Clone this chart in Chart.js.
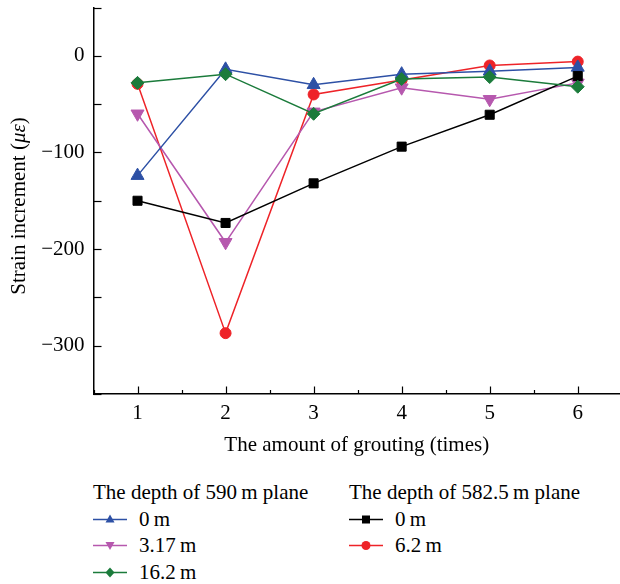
<!DOCTYPE html>
<html>
<head>
<meta charset="utf-8">
<script src="https://cdn.jsdelivr.net/npm/chart.js@4.4.1/dist/chart.umd.min.js"></script>
<style>
  html, body { margin: 0; padding: 0; background: #fff; }
  #wrap { position: relative; width: 620px; height: 584px; font-family: "Liberation Serif", "DejaVu Serif", serif; color: #000; }
  #chart { position: absolute; left: 0; top: 0; }
  .legend-col { position: absolute; top: 479px; font-size: 21px; line-height: 26.7px; }
  .legend-col .head { white-space: nowrap; }
  .legend-col .item { display: flex; align-items: center; white-space: nowrap; }
  .legend-col svg { margin-right: 12px; }
</style>
</head>
<body>
<div id="wrap">
  <canvas id="chart" width="620" height="460"></canvas>
  <div class="legend-col" id="legLeft" style="left:93px"></div>
  <div class="legend-col" id="legRight" style="left:349px"></div>
</div>
<script>
// grouting times
const grouting = [1, 2, 3, 4, 5, 6];

// 590 m plane
const d590_0m = [-124, -14, -30, -19, -16, -12];
const d590_317m = [-60, -193, -58, -33, -45, -28];
const d590_162m = [-28, -19, -60, -24, -22, -32];
// 582.5 m plane
const d5825_0m = [-150, -173, -132, -94, -61, -21];
const d5825_62m = [-29, -287, -40, -25, -10, -6];

const yLabels = [0, -100, -200, -300];

const FONT = '"Liberation Serif", "DejaVu Serif", serif';
const FS = 21;

function isWhole(v) {
    return Math.abs(v - Math.round(v)) < 1e-6;
}

function pts(vals) {
    return grouting.map((g, i) => ({ x: g, y: vals[i] }));
}

function ds(label, vals, color, style, radius, rot, order) {
    return {
        label: label,
        data: pts(vals),
        borderColor: color,
        backgroundColor: color,
        pointBackgroundColor: color,
        pointBorderColor: color,
        pointStyle: style,
        pointRadius: radius,
        pointHoverRadius: radius,
        pointRotation: rot,
        pointBorderWidth: 1,
        borderWidth: 1.5,
        tension: 0,
        fill: false,
        order: order
    };
}

const datasets = [
    ds('0 m', d590_0m, '#2d50a5', 'triangle', 7.5, 0, 2),
    ds('3.17 m', d590_317m, '#b658ae', 'triangle', 7.5, 180, 3),
    ds('16.2 m', d590_162m, '#1b7b3b', 'rectRot', 6.5, 0, 0),
    ds('0 m', d5825_0m, '#000000', 'rect', 6.4, 0, 1),
    ds('6.2 m', d5825_62m, '#ee2328', 'circle', 5.5, 0, 4)
];

// ticks drawn inward, like the original plot
const inwardTicks = {
    id: 'inwardTicks',
    afterDraw(chart) {
        const ctx = chart.ctx;
        const xs = chart.scales.x, ys = chart.scales.y;
        const area = chart.chartArea;
        ctx.save();
        ctx.strokeStyle = '#000';
        ctx.lineWidth = 1.2;
        xs.ticks.forEach(t => {
            const px = Math.round(xs.getPixelForValue(t.value)) + 0.5;
            const len = isWhole(t.value) ? 7.5 : 4;
            ctx.beginPath();
            ctx.moveTo(px, area.bottom);
            ctx.lineTo(px, area.bottom - len);
            ctx.stroke();
        });
        ys.ticks.forEach(t => {
            const py = Math.round(ys.getPixelForValue(t.value)) + 0.5;
            ctx.beginPath();
            ctx.moveTo(area.left, py);
            ctx.lineTo(area.left + 8, py);
            ctx.stroke();
        });
        ctx.restore();
    }
};

// axis titles (y title has italic mu-epsilon)
const axisTitles = {
    id: 'axisTitles',
    afterDraw(chart) {
        const ctx = chart.ctx;
        const area = chart.chartArea;
        const normal = FS + 'px ' + FONT;
        const parts = [
            { t: 'Strain increment (', f: normal },
            { t: 'με', f: 'italic ' + normal },
            { t: ')', f: normal }
        ];
        ctx.save();
        ctx.fillStyle = '#000';
        let total = 0;
        parts.forEach(p => { ctx.font = p.f; p.w = ctx.measureText(p.t).width; total += p.w; });
        ctx.save();
        ctx.translate(25, 206);
        ctx.rotate(-Math.PI / 2);
        ctx.textBaseline = 'alphabetic';
        let x = -total / 2;
        parts.forEach(p => { ctx.font = p.f; ctx.fillText(p.t, x, 0); x += p.w; });
        ctx.restore();

        ctx.font = normal;
        ctx.textAlign = 'center';
        ctx.textBaseline = 'middle';
        ctx.fillText('The amount of grouting (times)', (area.left + area.right) / 2, 445);
        ctx.restore();
    }
};

new Chart(document.getElementById('chart').getContext('2d'), {
    type: 'line',
    data: { datasets: datasets },
    options: {
        responsive: false,
        animation: false,
        layout: { autoPadding: false, padding: { top: 7.5, left: 0, right: 0, bottom: 0 } },
        plugins: {
            legend: { display: false },
            tooltip: { enabled: false }
        },
        scales: {
            x: {
                type: 'linear',
                min: 0.5,
                max: 6.48,
                afterFit: s => { s.height = 66; s.paddingLeft = 0; s.paddingRight = 0; },
                // major ticks at each grouting, minor halfway between
                afterBuildTicks: s => {
                    s.ticks = grouting.flatMap(g => [{ value: g - 0.5 }, { value: g }]);
                },
                grid: { display: false, drawTicks: false },
                border: { display: true, color: '#000', width: 1.5 },
                ticks: {
                    padding: 7,
                    color: '#000',
                    font: { family: FONT, size: FS },
                    maxRotation: 0,
                    autoSkip: false,
                    callback: v => isWhole(v) ? String(Math.round(v)) : ''
                }
            },
            y: {
                type: 'linear',
                min: -350,
                max: 50,
                afterFit: s => { s.width = 93.5; s.paddingTop = 0; s.paddingBottom = 0; },
                grid: { display: false, drawTicks: false },
                border: { display: true, color: '#000', width: 1.5 },
                ticks: {
                    stepSize: 50,
                    padding: 9,
                    color: '#000',
                    font: { family: FONT, size: FS },
                    autoSkip: false,
                    callback: v => yLabels.includes(v) ? String(v).replace('-', '\u2212') : ''
                }
            }
        }
    },
    plugins: [inwardTicks, axisTitles]
});

// legend in two groups
function symbolSvg(d) {
    const c = d.borderColor;
    let m = '';
    if (d.pointStyle === 'triangle' && d.pointRotation === 0) {
        m = `<polygon points="17,3.5 21.5,11.5 12.5,11.5" fill="${c}"/>`;
    } else if (d.pointStyle === 'triangle') {
        m = `<polygon points="17,13 21.5,5 12.5,5" fill="${c}"/>`;
    } else if (d.pointStyle === 'rectRot') {
        m = `<polygon points="17,3.5 21.5,8.5 17,13.5 12.5,8.5" fill="${c}"/>`;
    } else if (d.pointStyle === 'rect') {
        m = `<rect x="13" y="4.5" width="8" height="8" fill="${c}"/>`;
    } else {
        m = `<circle cx="17" cy="8.5" r="4.5" fill="${c}"/>`;
    }
    return `<svg width="34" height="17"><line x1="0" y1="8.5" x2="34" y2="8.5" stroke="${c}" stroke-width="1.5"/>${m}</svg>`;
}

function fillLegend(id, head, list) {
    const el = document.getElementById(id);
    let html = `<div class="head">${head}</div>`;
    list.forEach(d => {
        html += `<div class="item">${symbolSvg(d)}<span>${d.label.replace(' m', '\u2009m')}</span></div>`;
    });
    el.innerHTML = html;
}

fillLegend('legLeft', 'The depth of 590\u2009m plane', datasets.slice(0, 3));
fillLegend('legRight', 'The depth of 582.5\u2009m plane', datasets.slice(3));
</script>
</body>
</html>
